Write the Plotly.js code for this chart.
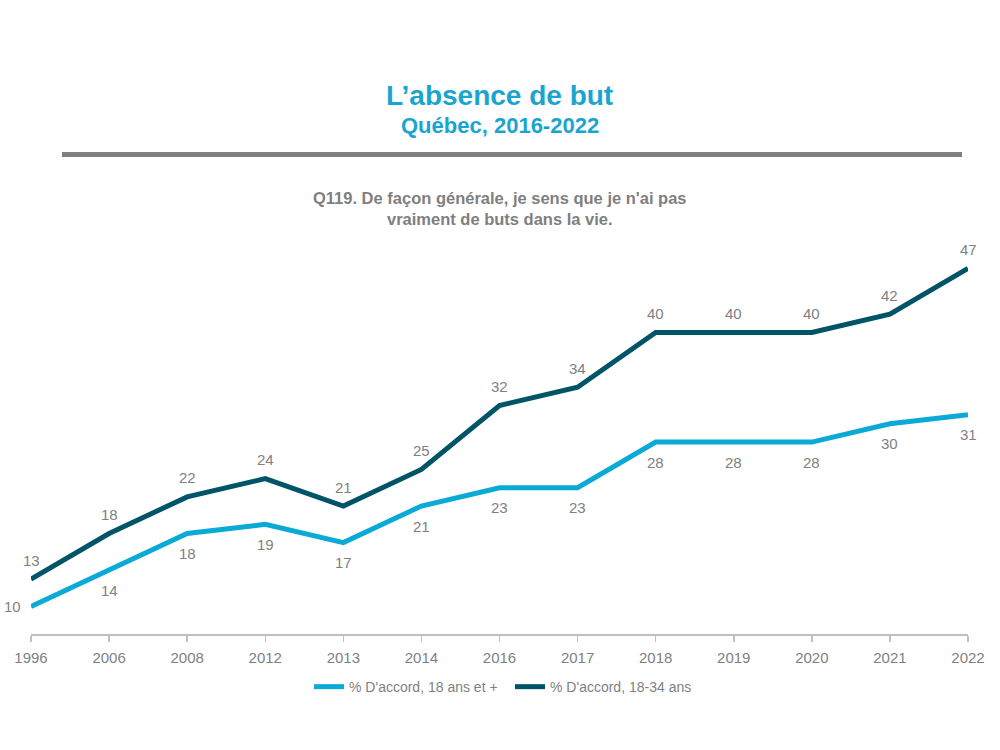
<!DOCTYPE html>
<html>
<head>
<meta charset="utf-8">
<script src="https://cdn.plot.ly/plotly-3.0.1.min.js"></script>
<style>html,body{margin:0;padding:0;background:#fff;}#chart{width:1000px;height:750px;}</style>
</head>
<body>
<div id="chart"></div>
<script>
const years = ["1996","2006","2008","2012","2013","2014","2016","2017","2018","2019","2020","2021","2022"];
const all18 = [10,14,18,19,17,21,23,23,28,28,28,30,31];
const young = [13,18,22,24,21,25,32,34,40,40,40,42,47];
const seriesNames = ["% D'accord, 18 ans et +", "% D'accord, 18-34 ans"];
const titleText = "L’absence de but";
const subtitleText = "Québec, 2016-2022";
const questionText = "Q119. De façon générale, je sens que je n'ai pas<br>vraiment de buts dans la vie.";

const FONT = "Liberation Sans, Arial, sans-serif";
const GRAY = "#7f7f7f";
const LIGHT = "#0AAAD6";
const DARK = "#005468";

const traces = [
  {x: years, y: all18, name: seriesNames[0], type: "scatter", mode: "lines",
   line: {color: LIGHT, width: 5}, hoverinfo: "skip"},
  {x: years, y: young, name: seriesNames[1], type: "scatter", mode: "lines",
   line: {color: DARK, width: 5}, hoverinfo: "skip"}
];

const annotations = [];
years.forEach((yr, i) => {
  annotations.push({x: i, y: young[i], xref: "x", yref: "y", text: String(young[i]),
    showarrow: false, yshift: 19, font: {family: FONT, size: 15, color: GRAY}});
  annotations.push({x: i, y: all18[i], xref: "x", yref: "y", text: String(all18[i]),
    showarrow: false, yshift: i === 0 ? 0 : -20, xshift: i === 0 ? -19 : 0,
    font: {family: FONT, size: 15, color: GRAY}});
});
annotations.push({xref: "paper", yref: "paper", x: 0.5, y: 1.370, xanchor: "center", yanchor: "middle",
  text: "<b>" + titleText + "</b>", showarrow: false, font: {family: FONT, size: 28, color: "#1AA5D0"}});
annotations.push({xref: "paper", yref: "paper", x: 0.5, y: 1.294, xanchor: "center", yanchor: "middle",
  text: "<b>" + subtitleText + "</b>", showarrow: false, font: {family: FONT, size: 22, color: "#1AA5D0"}});
annotations.push({xref: "paper", yref: "paper", x: 0.5, y: 1.083, xanchor: "center", yanchor: "middle",
  text: "<b>" + questionText + "</b>", showarrow: false, font: {family: FONT, size: 16.5, color: GRAY}});

const layout = {
  width: 1000, height: 750,
  margin: {l: 31, r: 32, t: 241, b: 116},
  paper_bgcolor: "#fff", plot_bgcolor: "#fff",
  font: {family: FONT, color: GRAY},
  showlegend: true,
  legend: {orientation: "h", x: 0.2967, xanchor: "left", y: -0.135, yanchor: "middle",
    font: {family: FONT, size: 14, color: GRAY}, itemwidth: 30, tracegroupgap: 0,
    entrywidth: 156},
  xaxis: {type: "category", range: [0, 12], showgrid: false, zeroline: false,
    showline: true, linecolor: "#bfbfbf", linewidth: 1.5,
    ticks: "outside", ticklen: 6, tickcolor: "#bfbfbf", tickwidth: 1.5,
    ticklabelstandoff: 3,
    tickfont: {family: FONT, size: 15, color: GRAY}, fixedrange: true},
  yaxis: {range: [7, 50], showgrid: false, zeroline: false, showline: false,
    showticklabels: false, ticks: "", fixedrange: true},
  shapes: [{type: "line", xref: "paper", yref: "paper", x0: 0.0331, x1: 0.9936, y0: 1.220, y1: 1.220,
    line: {color: "#808080", width: 5}}],
  annotations: annotations
};

Plotly.newPlot("chart", traces, layout, {displayModeBar: false, staticPlot: true});
</script>
</body>
</html>
